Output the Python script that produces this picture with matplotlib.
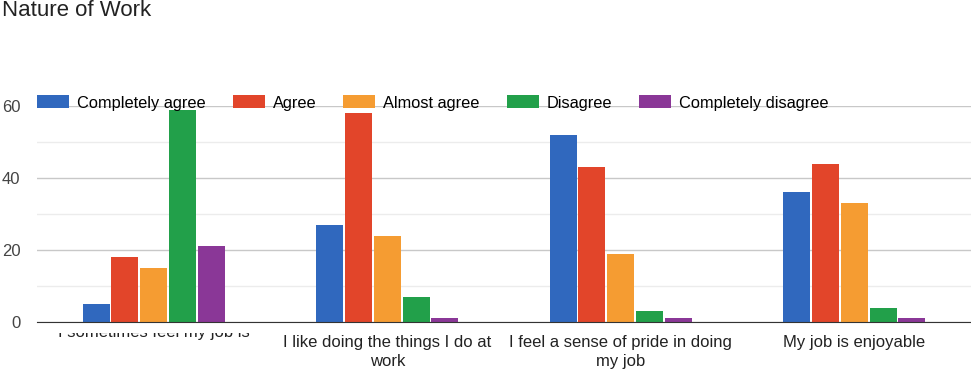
import numpy as np
import matplotlib
matplotlib.use('Agg')
import matplotlib.pyplot as plt
from matplotlib.transforms import Bbox, TransformedBbox, ScaledTranslation

plt.rcParams['font.family'] = ['Liberation Sans', 'DejaVu Sans']

categories = ['I sometimes feel my job is',
              'I like doing the things I do at\nwork',
              'I feel a sense of pride in doing\nmy job',
              'My job is enjoyable']
series = ['Completely agree', 'Agree', 'Almost agree', 'Disagree', 'Completely disagree']
completely_agree = [5, 27, 52, 36]
agree = [18, 58, 43, 44]
almost_agree = [15, 24, 19, 33]
disagree = [59, 7, 3, 4]
completely_disagree = [21, 1, 1, 1]
values = [completely_agree, agree, almost_agree, disagree, completely_disagree]
colors = ['#3068be', '#e2452a', '#f59c32', '#22a04a', '#8a3797']

fig = plt.figure(figsize=(9.71, 3.71), dpi=100)
ax = fig.add_axes([37/971, 1-322/371, 1-37/971, (322-106)/371])

x = np.arange(len(categories))
slot = 0.1235
for i, (name, vals, c) in enumerate(zip(series, values, colors)):
    ax.bar(x + (i-2)*slot, vals, width=0.116, color=c, label=name, zorder=3)

ax.set_xlim(-0.5, 3.5)
ax.set_ylim(0, 60)
ax.set_yticks([0, 20, 40, 60])
ax.set_yticks([10, 30, 50], minor=True)
ax.grid(axis='y', which='major', color='#c8c8c8', linewidth=1, zorder=0)
ax.grid(axis='y', which='minor', color='#ececec', linewidth=1, zorder=0)
for s in ['top', 'right', 'left']:
    ax.spines[s].set_visible(False)
ax.spines['bottom'].set_color('#333333')
ax.spines['bottom'].set_zorder(4)
ax.tick_params(axis='y', which='both', length=0, pad=12, labelsize=12, labelcolor='#444444')
ax.tick_params(axis='x', length=0, pad=9, labelsize=12, labelcolor='#222222')
ax.set_xticks(x)
ax.set_xticklabels([''] + categories[1:], linespacing=1.35)

# the first label is cut off at the top in the original
first = ax.text(0, 0, categories[0], fontsize=12, color='#222222', ha='center', va='baseline',
                transform=ax.get_xaxis_transform() + ScaledTranslation(0, -15/100, fig.dpi_scale_trans))
first.set_clip_box(TransformedBbox(Bbox.from_extents(0, 0, 1, 38/371), fig.transFigure))
first.set_clip_on(True)

fig.legend(loc='center left', bbox_to_anchor=(37/971, 1-103/371), ncol=5,
           frameon=False, fontsize=11.8, handlelength=1.95, handleheight=0.85,
           handletextpad=0.49, columnspacing=1.65, borderaxespad=0, borderpad=0)

fig.text(0.002, 1-11/371, 'Nature of Work', fontsize=16, color='#222222', va='center', ha='left')

fig.savefig('out.png', dpi=100)
